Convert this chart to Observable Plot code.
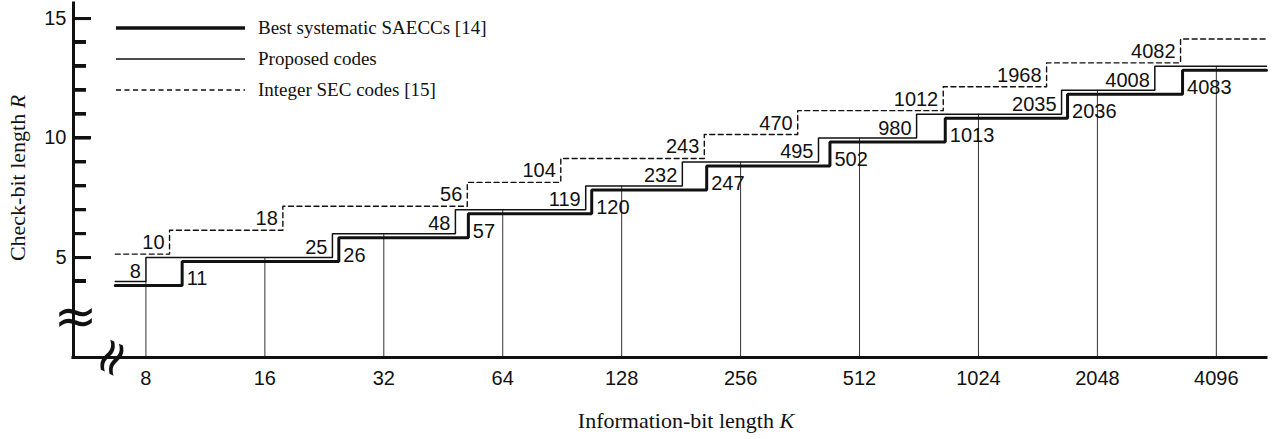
<!DOCTYPE html>
<html><head><meta charset="utf-8">
<script src="https://cdn.jsdelivr.net/npm/d3@7"></script>
<script src="https://cdn.jsdelivr.net/npm/@observablehq/plot@0.6"></script>
<style>
body{margin:0;background:#fff;}
#wrap{position:relative;width:1282px;height:439px;overflow:hidden;background:#fff;}
#wrap svg{position:absolute;left:0;top:0;}
.serif{font-family:"Liberation Serif","Times New Roman",serif;color:#111;position:absolute;white-space:nowrap;line-height:22px;font-size:22px;}
.tk{position:absolute;height:3px;background:#111;z-index:10;}
</style></head><body>
<div id="wrap"></div>
<script>
// ---- data ----
const xTicks = [8, 16, 32, 64, 128, 256, 512, 1024, 2048, 4096];
const yMajor = [5, 10, 15];
const yMinor = [4, 6, 7, 8, 9, 11, 12, 13, 14];
const xDomain = [5.245, 5487];
const yDomain = [0.82, 15.63];
const lineStartK = 6.69;

// Best systematic SAECCs [14] (thick)
const bestR = [4, 5, 6, 7, 8, 9, 10, 11, 12, 13];
const bestStepK = [9.88, 24.62, 52.38, 107.5, 210.1, 430.9, 843.8, 1721, 3364];
const bestLabels = ["11", "26", "57", "120", "247", "502", "1013", "2036", "4083"];

// Proposed codes (thin)
const propR = [4, 5, 6, 7, 8, 9, 10, 11, 12, 13];
const propStepK = [8.0, 23.72, 48.57, 103.8, 182.3, 403.1, 714.0, 1662, 2862];
const propLabels = ["8", "25", "48", "119", "232", "495", "980", "2035", "4008"];

// Integer SEC codes [15] (dashed)
const intR = [5, 6, 7, 8, 9, 10, 11, 12, 13, 14];
const intStepK = [9.18, 17.77, 52.05, 89.76, 207.2, 357.1, 834.0, 1523, 3325];
const intLabels = ["10", "18", "56", "104", "243", "470", "1012", "1968", "4082"];

const legendNames = ["Best systematic SAECCs [14]", "Proposed codes", "Integer SEC codes [15]"];

// ---- helpers ----
function stepPoints(R, stepK) {
  const pts = [{K: lineStartK, R: R[0]}];
  stepK.forEach((k, i) => pts.push({K: k, R: R[i + 1]}));
  pts.push({K: xDomain[1], R: R[R.length - 1]});
  return pts;
}
function labelData(R, stepK, labels) {
  return stepK.map((k, i) => ({K: k, R: R[i], label: labels[i]}));
}
function levelAt(R, stepK, k) {
  return R[stepK.filter(s => s <= k).length];
}

const W = 1282, H = 439, ML = 73, MR = 16, MT = 3, MB = 82;

const xs = d3.scaleLog().base(2).domain(xDomain).range([ML, W - MR]);
const majorEnd = xs.invert(ML + 17.5);
const minorEnd = xs.invert(ML + 13);

const bestPts = stepPoints(bestR, bestStepK);
const propPts = stepPoints(propR, propStepK);
const intPts = stepPoints(intR, intStepK);

const ink = "#111";
const chart = Plot.plot({
  width: W, height: H,
  marginLeft: ML, marginRight: MR, marginTop: MT, marginBottom: MB,
  x: {type: "log", base: 2, domain: xDomain},
  y: {domain: yDomain},
  style: {fontFamily: "'Liberation Sans', Arial, sans-serif", fontSize: "20px", color: ink},
  marks: [
    Plot.ruleX(xTicks, {x: d => d, y1: yDomain[0], y2: d => levelAt(bestR, bestStepK, d), stroke: "#333", strokeWidth: 1}),
    Plot.line(intPts, {x: "K", y: "R", curve: "step-after", stroke: ink, strokeWidth: 1.4, strokeDasharray: "5,3.5", dy: -3.5}),
    Plot.line(propPts, {x: "K", y: "R", curve: "step-after", stroke: ink, strokeWidth: 1.5, strokeLinejoin: "miter"}),
    Plot.line(bestPts, {x: "K", y: "R", curve: "step-after", stroke: ink, strokeWidth: 3, dy: 4, strokeLinejoin: "miter"}),
    Plot.text(labelData(propR, propStepK, propLabels), {x: "K", y: "R", text: "label", textAnchor: "end", lineAnchor: "bottom", dx: -5, dy: -3.5, fill: ink}),
    Plot.text(labelData(intR, intStepK, intLabels), {x: "K", y: "R", text: "label", textAnchor: "end", lineAnchor: "bottom", dx: -5, dy: -8.5, fill: ink}),
    Plot.text(labelData(bestR, bestStepK, bestLabels), {x: "K", y: "R", text: "label", textAnchor: "start", lineAnchor: "bottom", dx: 4.5, dy: 4, fill: ink}),
    // axis lines
    Plot.ruleX([xDomain[0]], {stroke: ink, strokeWidth: 3, strokeLinecap: "square"}),
    Plot.ruleY([yDomain[0]], {stroke: ink, strokeWidth: 3, strokeLinecap: "square"}),
    // inward y ticks
    Plot.ruleY(yMajor, {y: d => d, x1: xDomain[0], x2: majorEnd, stroke: ink, strokeWidth: 3}),
    Plot.ruleY(yMinor, {y: d => d, x1: xDomain[0], x2: minorEnd, stroke: ink, strokeWidth: 3}),
    // tick labels
    Plot.axisY(yMajor, {anchor: "left", tickSize: 0, tickPadding: 7, label: null}),
    Plot.axisX(xTicks, {anchor: "bottom", tickSize: 0, tickPadding: 13, tickFormat: d => String(d), label: null}),
    // axis break symbols
    Plot.text(["≈"], {frameAnchor: "bottom-left", textAnchor: "middle", lineAnchor: "middle", dx: 2, dy: -40, fontSize: 52, fontFamily: "DejaVu Sans", fill: ink}),
    Plot.text(["≈"], {frameAnchor: "bottom-left", textAnchor: "middle", lineAnchor: "middle", dx: 38, dy: 0, rotate: -65, fontSize: 50, fontFamily: "DejaVu Sans", fill: ink})
  ]
});

const wrap = document.getElementById("wrap");
wrap.appendChild(chart);

// y ticks also as HTML bars placed through Plot's own y scale (guaranteed on top)
const ys = chart.scale("y");
[[yMajor, 17.5], [yMinor, 13]].forEach(([vals, len]) => {
  vals.forEach(v => {
    const d = document.createElement("div");
    d.className = "tk";
    d.style.left = ML + "px";
    d.style.width = len + "px";
    d.style.top = (ys.apply(v) - 1.5) + "px";
    wrap.appendChild(d);
  });
});

// legend overlay
const ns = "http://www.w3.org/2000/svg";
const ov = document.createElementNS(ns, "svg");
ov.setAttribute("width", 700); ov.setAttribute("height", 110);
ov.style.pointerEvents = "none";
function seg(x1, y1, x2, y2, w, dash) {
  const l = document.createElementNS(ns, "line");
  l.setAttribute("x1", x1); l.setAttribute("x2", x2);
  l.setAttribute("y1", y1); l.setAttribute("y2", y2);
  l.setAttribute("stroke", ink); l.setAttribute("stroke-width", w);
  if (dash) l.setAttribute("stroke-dasharray", dash);
  ov.appendChild(l);
}
const legStyles = [
  {w: 3.3, dash: null},
  {w: 1.5, dash: null},
  {w: 1.4, dash: "5,3.5"}
];
legendNames.forEach((name, i) => {
  const y = 28 + i * 31;
  seg(116, y, 245, y, legStyles[i].w, legStyles[i].dash);
  const t = document.createElementNS(ns, "text");
  t.setAttribute("x", 258); t.setAttribute("y", y);
  t.setAttribute("dy", "0.33em");
  t.setAttribute("font-family", "'Liberation Serif', 'Times New Roman', serif");
  t.setAttribute("font-size", 19);
  t.setAttribute("fill", ink);
  t.textContent = name;
  ov.appendChild(t);
});
wrap.appendChild(ov);

// axis titles
const xt = document.createElement("div");
xt.className = "serif";
xt.innerHTML = "Information-bit length <i>K</i>";
xt.style.left = "686px"; xt.style.top = "410px"; xt.style.transform = "translateX(-50%)";
wrap.appendChild(xt);
const yt = document.createElement("div");
yt.className = "serif";
yt.innerHTML = "Check-bit length <i>R</i>";
yt.style.left = "18px"; yt.style.top = "178px"; yt.style.transform = "translate(-50%,-50%) rotate(-90deg)";
wrap.appendChild(yt);
</script>
</body></html>
